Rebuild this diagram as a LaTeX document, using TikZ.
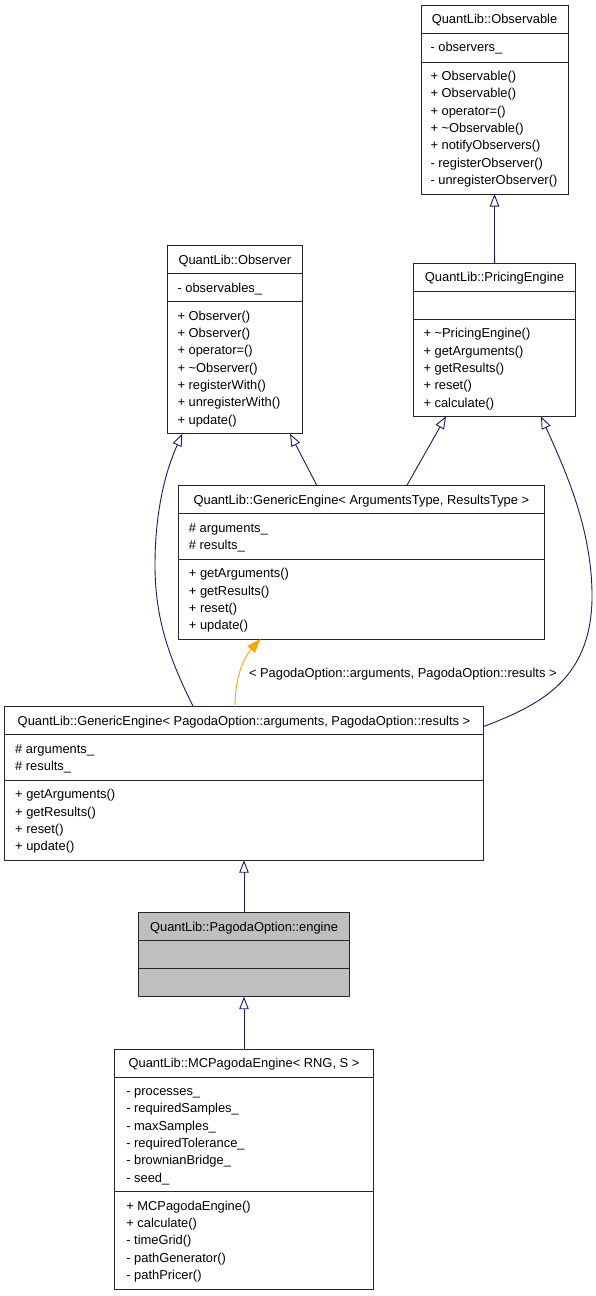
\documentclass[tikz,border=0pt]{standalone}
\usepackage{fontspec}
\setmainfont{Liberation Sans}
\usetikzlibrary{arrows.meta}
\definecolor{edgeblue}{HTML}{191970}
\definecolor{tmplorange}{HTML}{FFA500}
\definecolor{boxgray}{HTML}{BFBFBF}
\definecolor{boxline}{HTML}{262626}
\begin{document}
\begin{tikzpicture}[x=1pt,y=-1pt,
  every node/.style={inner sep=0pt,outer sep=0pt,font=\fontsize{12.9}{17.3}\selectfont},
  classbox/.style={draw=boxline,line width=1pt,fill=white,anchor=north west,rectangle},
  activebox/.style={classbox,fill=boxgray},
  sepline/.style={draw=boxline,line width=1pt},
  title/.style={anchor=base},
  member/.style={anchor=base west},
  inherit/.style={draw=edgeblue,line width=0.9pt,-{Triangle[open,length=12.5pt,width=9.5pt,line width=0.9pt]}},
  tmplarrow/.style={draw=tmplorange,line width=0.9pt,-{Triangle[length=14pt,width=10pt]}},
]
\useasboundingbox (0,0) rectangle (596,1296);
\fill[white] (0,0) rectangle (596,1296);

% ---------- QuantLib::Observable ----------
\node[classbox,minimum width=147pt,minimum height=189pt] (observable) at (421,5) {};
\draw[sepline] (421,33) -- (568,33);
\draw[sepline] (421,62) -- (568,62);
\node[title] (observable-t) at (494.5,23.5) {QuantLib::Observable};
\node[member] (observable-f1) at (430.5,51.5) {- observers\_};
\node[member] (observable-m1) at (430.5,80.5) {+ Observable()};
\node[member] (observable-m2) at (430.5,97.8) {+ Observable()};
\node[member] (observable-m3) at (430.5,115.1) {+ operator=()};
\node[member] (observable-m4) at (430.5,132.4) {+ \textasciitilde Observable()};
\node[member] (observable-m5) at (430.5,149.7) {+ notifyObservers()};
\node[member] (observable-m6) at (430.5,167.0) {- registerObserver()};
\node[member] (observable-m7) at (430.5,184.3) {- unregisterObserver()};

% ---------- QuantLib::Observer ----------
\node[classbox,minimum width=135pt,minimum height=188pt] (observer) at (167.3,245.7) {};
\draw[sepline] (167.3,273.7) -- (302.3,273.7);
\draw[sepline] (167.3,301.7) -- (302.3,301.7);
\node[title] (observer-t) at (234.8,264.2) {QuantLib::Observer};
\node[member] (observer-f1) at (177.5,292.2) {- observables\_};
\node[member] (observer-m1) at (177.5,320.2) {+ Observer()};
\node[member] (observer-m2) at (177.5,337.5) {+ Observer()};
\node[member] (observer-m3) at (177.5,354.8) {+ operator=()};
\node[member] (observer-m4) at (177.5,372.1) {+ \textasciitilde Observer()};
\node[member] (observer-m5) at (177.5,389.4) {+ registerWith()};
\node[member] (observer-m6) at (177.5,406.7) {+ unregisterWith()};
\node[member] (observer-m7) at (177.5,424.0) {+ update()};

% ---------- QuantLib::PricingEngine ----------
\node[classbox,minimum width=162.7pt,minimum height=153pt] (pricing) at (413.2,263.3) {};
\draw[sepline] (413.2,291.7) -- (575.9,291.7);
\draw[sepline] (413.2,319.3) -- (575.9,319.3);
\node[title] (pricing-t) at (494.5,281.8) {QuantLib::PricingEngine};
\node[member] (pricing-m1) at (423.5,337.8) {+ \textasciitilde PricingEngine()};
\node[member] (pricing-m2) at (423.5,355.1) {+ getArguments()};
\node[member] (pricing-m3) at (423.5,372.4) {+ getResults()};
\node[member] (pricing-m4) at (423.5,389.7) {+ reset()};
\node[member] (pricing-m5) at (423.5,407.0) {+ calculate()};

% ---------- QuantLib::GenericEngine< ArgumentsType, ResultsType > ----------
\node[classbox,minimum width=365.7pt,minimum height=153.3pt] (genargs) at (178.6,485.7) {};
\draw[sepline] (178.6,513.7) -- (544.3,513.7);
\draw[sepline] (178.6,559.3) -- (544.3,559.3);
\node[title] (genargs-t) at (361.4,504.2) {QuantLib::GenericEngine< ArgumentsType, ResultsType >};
\node[member] (genargs-f1) at (188.9,532.2) {\# arguments\_};
\node[member] (genargs-f2) at (188.9,549.5) {\# results\_};
\node[member] (genargs-m1) at (188.9,577.8) {+ getArguments()};
\node[member] (genargs-m2) at (188.9,595.1) {+ getResults()};
\node[member] (genargs-m3) at (188.9,612.4) {+ reset()};
\node[member] (genargs-m4) at (188.9,629.7) {+ update()};

% ---------- QuantLib::GenericEngine< PagodaOption::arguments, PagodaOption::results > ----------
\node[classbox,minimum width=478.4pt,minimum height=153.5pt] (genpagoda) at (4.8,706.7) {};
\draw[sepline] (4.8,734.8) -- (483.2,734.8);
\draw[sepline] (4.8,780.2) -- (483.2,780.2);
\node[title] (genpagoda-t) at (244,725.2) {QuantLib::GenericEngine< PagodaOption::arguments, PagodaOption::results >};
\node[member] (genpagoda-f1) at (15.2,753.3) {\# arguments\_};
\node[member] (genpagoda-f2) at (15.2,770.6) {\# results\_};
\node[member] (genpagoda-m1) at (15.2,798.7) {+ getArguments()};
\node[member] (genpagoda-m2) at (15.2,816.0) {+ getResults()};
\node[member] (genpagoda-m3) at (15.2,833.3) {+ reset()};
\node[member] (genpagoda-m4) at (15.2,850.6) {+ update()};

% ---------- QuantLib::PagodaOption::engine ----------
\node[activebox,minimum width=210.6pt,minimum height=84pt] (engine) at (138.7,912.7) {};
\draw[sepline] (138.7,940.7) -- (349.3,940.7);
\draw[sepline] (138.7,968.7) -- (349.3,968.7);
\node[title] (engine-t) at (244,931.2) {QuantLib::PagodaOption::engine};

% ---------- QuantLib::MCPagodaEngine< RNG, S > ----------
\node[classbox,minimum width=258.6pt,minimum height=240pt] (mcpagoda) at (114.7,1049) {};
\draw[sepline] (114.7,1077) -- (373.3,1077);
\draw[sepline] (114.7,1191.7) -- (373.3,1191.7);
\node[title] (mcpagoda-t) at (244,1067.5) {QuantLib::MCPagodaEngine< RNG, S >};
\node[member] (mcpagoda-f1) at (126.3,1095.5) {- processes\_};
\node[member] (mcpagoda-f2) at (126.3,1112.8) {- requiredSamples\_};
\node[member] (mcpagoda-f3) at (126.3,1130.1) {- maxSamples\_};
\node[member] (mcpagoda-f4) at (126.3,1147.4) {- requiredTolerance\_};
\node[member] (mcpagoda-f5) at (126.3,1164.7) {- brownianBridge\_};
\node[member] (mcpagoda-f6) at (126.3,1182.0) {- seed\_};
\node[member] (mcpagoda-m1) at (126.3,1210.2) {+ MCPagodaEngine()};
\node[member] (mcpagoda-m2) at (126.3,1227.5) {+ calculate()};
\node[member] (mcpagoda-m3) at (126.3,1244.8) {- timeGrid()};
\node[member] (mcpagoda-m4) at (126.3,1262.1) {- pathGenerator()};
\node[member] (mcpagoda-m5) at (126.3,1279.4) {- pathPricer()};

% ---------- inheritance ----------
\draw[inherit] (pricing.north) -- (observable.south);
\draw[inherit] ([xshift=138.4pt]genargs.north west) -- ([xshift=122.7pt]observer.south west);
\draw[inherit] ([xshift=228.1pt]genargs.north west) -- ([xshift=32.8pt]pricing.south west);
\draw[inherit] ([xshift=188.5pt]genpagoda.north west)
  .. controls (170,660) and (155,620) .. (155,565)
  .. controls (155,510) and (166,470) .. ([xshift=15pt]observer.south west);
\draw[inherit] ([yshift=-20pt]genpagoda.north east)
  .. controls (540,705) and (590,680) .. (592,600)
  .. controls (593,530) and (565,470) .. ([xshift=127.8pt]pricing.south west);
\draw[inherit] (engine.north) -- (genpagoda.south);
\draw[inherit] (mcpagoda.north) -- (engine.south);

% ---------- template instantiation ----------
\draw[tmplarrow] ([xshift=230.2pt]genpagoda.north west)
  .. controls (235,685) and (240,662) .. ([xshift=81.8pt]genargs.south west);
\node[member] (tmpl-label) at (249,677.2) {< PagodaOption::arguments, PagodaOption::results >};

\end{tikzpicture}
\end{document}
